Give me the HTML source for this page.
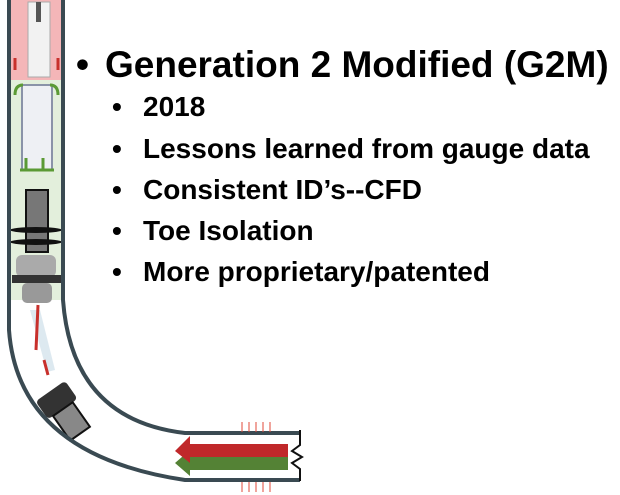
<!DOCTYPE html>
<html><head><style>
body{margin:0;width:620px;height:495px;background:#fff;overflow:hidden;position:relative;font-family:"Liberation Sans",Arial,sans-serif;}
.t{position:absolute;font-weight:bold;color:#000;white-space:nowrap;line-height:1}
.s{font-size:28px}
</style></head><body>
<svg width="620" height="495" style="position:absolute;left:0;top:0">
<rect x="11" y="0" width="51" height="80" fill="#f4b6b8"/>
<rect x="11" y="80" width="51" height="220" fill="#e3efdc"/>
<rect x="28" y="2" width="22" height="75" fill="#f2f2f2" stroke="#aaa"/>
<rect x="36" y="2" width="5" height="20" fill="#555"/>
<rect x="22" y="85" width="30" height="85" fill="#eef0f4" stroke="#8a93a8" stroke-width="2"/>
<path d="M15,70 l0,-12 M58,70 l0,-12" stroke="#c8302c" stroke-width="3"/>
<path d="M15,95 q0,-10 8,-10 M58,95 q0,-10 -8,-10" stroke="#5b9a35" stroke-width="3" fill="none"/>
<path d="M20,170 h34 M26,170 v-12 M43,170 v-12" stroke="#5b9a35" stroke-width="3" fill="none"/>
<rect x="26" y="190" width="22" height="62" fill="#777" stroke="#111" stroke-width="2"/>
<ellipse cx="36" cy="230" rx="26" ry="3" fill="#111"/>
<ellipse cx="36" cy="242" rx="26" ry="3" fill="#111"/>
<rect x="16" y="255" width="40" height="22" rx="6" fill="#aaa"/>
<rect x="12" y="275" width="50" height="8" fill="#333"/>
<rect x="22" y="283" width="30" height="20" rx="5" fill="#999"/>
<path d="M30,310 L40,310 L55,370 L47,372 Z" fill="#d4e3ec" opacity=".8"/>
<path d="M36,350 L38,305 M48,375 L44,360" stroke="#c8302c" stroke-width="3"/>
<g transform="rotate(-35 60 405)"><rect x="42" y="388" width="36" height="22" rx="4" fill="#333"/><rect x="48" y="410" width="24" height="30" fill="#888" stroke="#111" stroke-width="2"/></g>
<path d="M9,0 L9,330 Q18,455 185,480 L300,480" stroke="#3a4a52" stroke-width="4" fill="none"/>
<path d="M63,0 L63,300 Q72,420 185,433 L300,433" stroke="#3a4a52" stroke-width="4" fill="none"/>
<path d="M300,430 l0,15 l-8,6 l10,6 l-10,6 l8,6 l0,12" stroke="#111" stroke-width="2" fill="none"/>
<path d="M288,457 L190,457 L190,450 L175,463 L190,476 L190,470 L288,470 Z" fill="#548235"/>
<path d="M288,444 L190,444 L190,436 L175,451 L190,463 L190,457 L288,457 Z" fill="#c0282a"/>
<g stroke="#e24a3a" stroke-width="1"><path d="M242,422v10M249,422v10M256,422v10M263,422v10M270,422v10M242,482v10M249,482v10M256,482v10M263,482v10M270,482v10"/></g>
</svg>
<div class="t" style="left:76px;top:46px;font-size:37px">•</div>
<div class="t" style="left:105px;top:46px;font-size:37px">Generation 2 Modified (G2M)</div>
<div class="t s" style="left:112px;top:93px">•</div><div class="t s" style="left:143px;top:93px">2018</div>
<div class="t s" style="left:112px;top:135px">•</div><div class="t s" style="left:143px;top:135px">Lessons learned from gauge data</div>
<div class="t s" style="left:112px;top:176px">•</div><div class="t s" style="left:143px;top:176px">Consistent ID’s--CFD</div>
<div class="t s" style="left:112px;top:217px">•</div><div class="t s" style="left:143px;top:217px">Toe Isolation</div>
<div class="t s" style="left:112px;top:258px">•</div><div class="t s" style="left:143px;top:258px">More proprietary/patented</div>
</body></html>
